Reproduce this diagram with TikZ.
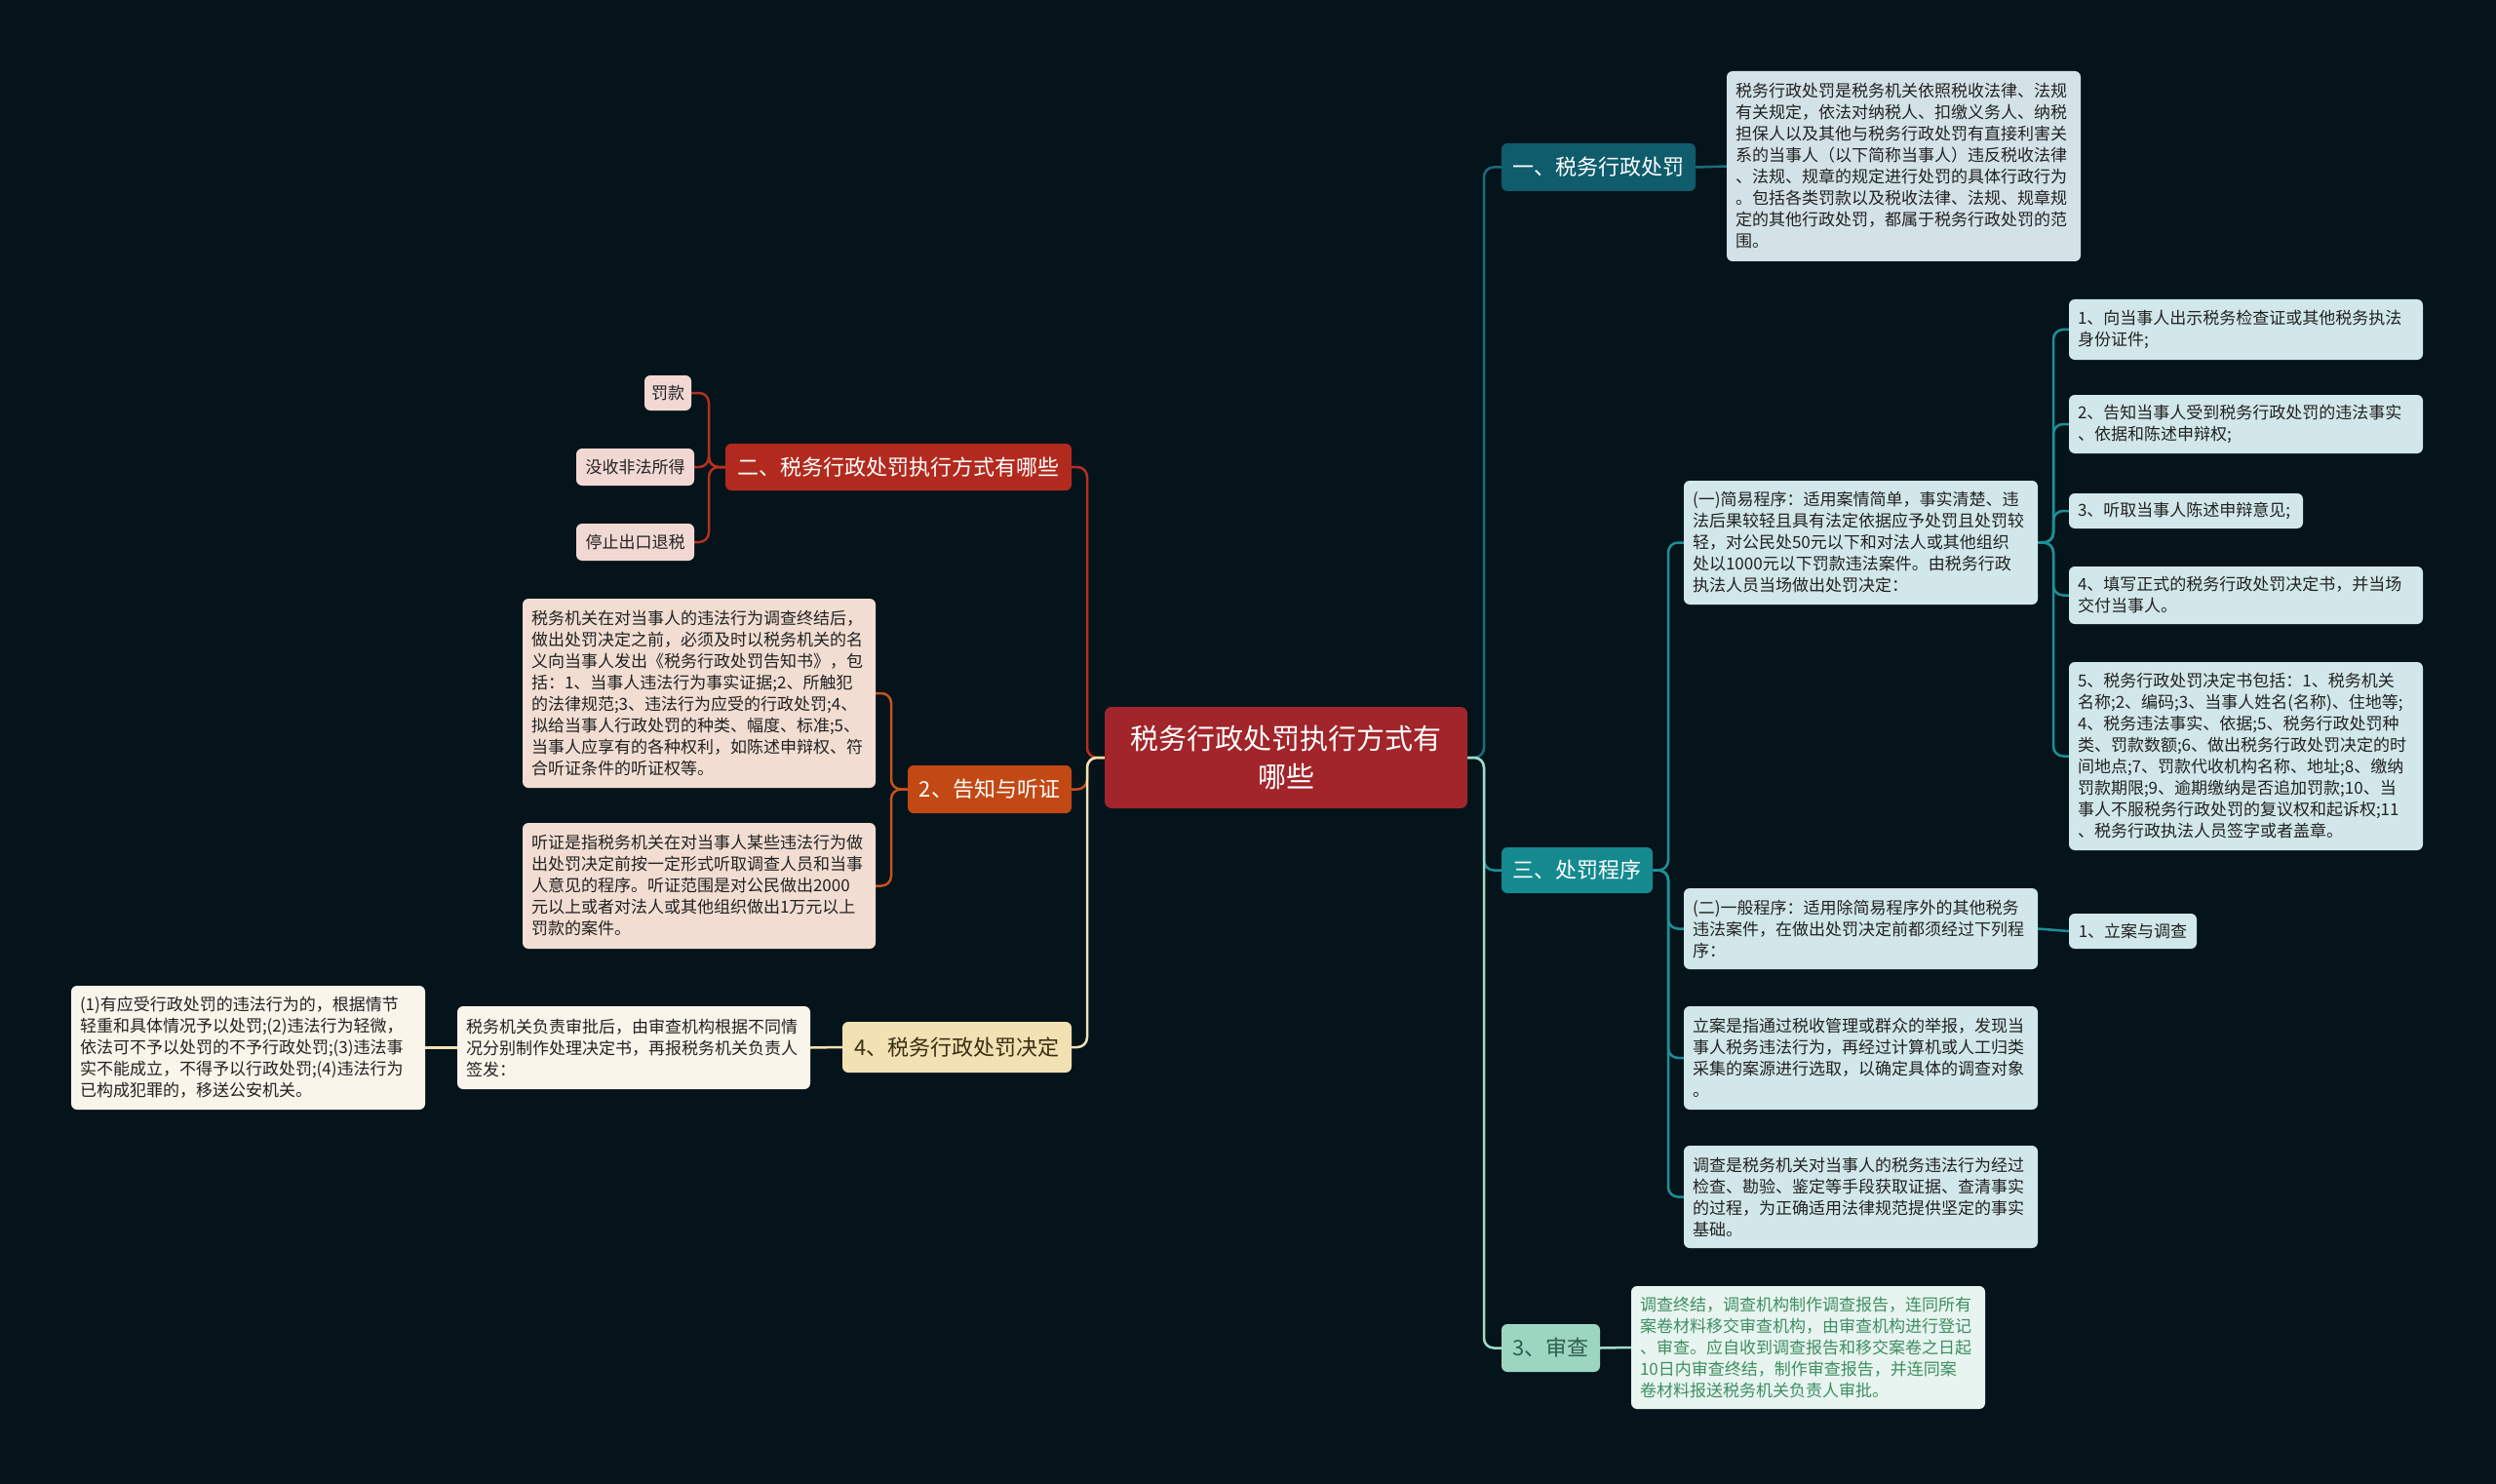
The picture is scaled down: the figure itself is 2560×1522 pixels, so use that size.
\documentclass[tikz,border=0pt]{standalone}
\usepackage{fontspec}
\setmainfont{Noto Sans CJK SC}
\usetikzlibrary{backgrounds}
\definecolor{bgc}{HTML}{05131B}
\definecolor{ctrc}{HTML}{A1252A}
\definecolor{redc}{HTML}{B22A1E}
\definecolor{redl}{HTML}{B4301F}
\definecolor{redleaf}{HTML}{F2D8D3}
\definecolor{orc}{HTML}{C24814}
\definecolor{orl}{HTML}{C4531C}
\definecolor{orleaf}{HTML}{F1DDD2}
\definecolor{yec}{HTML}{F1E1B3}
\definecolor{yel}{HTML}{EFE2B4}
\definecolor{yeleaf}{HTML}{FAF5EA}
\definecolor{yetxt}{HTML}{3A2E12}
\definecolor{dtc}{HTML}{0F5C6D}
\definecolor{dtl}{HTML}{1D6B7B}
\definecolor{dtleaf}{HTML}{D3E2E7}
\definecolor{tec}{HTML}{148A8F}
\definecolor{tel}{HTML}{1C9096}
\definecolor{teleaf}{HTML}{D1E7E9}
\definecolor{mic}{HTML}{9CD6C1}
\definecolor{mil}{HTML}{A2DBC7}
\definecolor{mitxt}{HTML}{2E5E52}
\definecolor{mileaf}{HTML}{E8F4EF}
\definecolor{migreen}{HTML}{3E8E63}
\definecolor{txtdark}{HTML}{222222}
\begin{document}
\begin{tikzpicture}[x=1pt,y=-1pt,
  box/.style={rounded corners=6pt, inner xsep=9pt, inner ysep=4pt, align=left,
    font=\fontsize{17}{22}\selectfont, text=txtdark},
  leaf/.style={rounded corners=6pt, inner xsep=6pt, inner ysep=2pt, align=center,
    font=\fontsize{17}{22}\selectfont, text=txtdark},
  branch/.style={rounded corners=6pt, inner sep=0pt, align=center,
    font=\fontsize{22}{26}\selectfont},
  conn/.style={line width=2.5pt, rounded corners=10pt}]
\useasboundingbox (0,0) rectangle (2560,1522);

% central
\node[rounded corners=7pt, fill=ctrc, text=white, align=center, inner sep=0pt,
  minimum width=372pt, minimum height=104pt, font=\fontsize{29}{39}\selectfont]
  (ctr) at (1319,777) {税务行政处罚执行方式有\\哪些};

% right branches
\node[branch, fill=dtc, text=white, minimum width=199pt, minimum height=49pt] (one) at (1639.5,171.5) {一、税务行政处罚};
\node[branch, fill=tec, text=white, minimum width=155pt, minimum height=47pt] (san) at (1617.5,892.5) {三、处罚程序};
\node[branch, fill=mic, text=mitxt, minimum width=101pt, minimum height=49pt] (shen) at (1590.5,1382.5) {3、审查};

\node[box, fill=dtleaf, text width=345pt, minimum height=195pt] (onedesc) at (1952.5,170.5) {税务行政处罚是税务机关依照税收法律、法规\\有关规定，依法对纳税人、扣缴义务人、纳税\\担保人以及其他与税务行政处罚有直接利害关\\系的当事人（以下简称当事人）违反税收法律\\、法规、规章的规定进行处罚的具体行政行为\\。包括各类罚款以及税收法律、法规、规章规\\定的其他行政处罚，都属于税务行政处罚的范\\围。};

\node[box, fill=teleaf, text width=345pt, minimum height=127pt] (jy) at (1908.5,556.5) {(一)简易程序：适用案情简单，事实清楚、违\\法后果较轻且具有法定依据应予处罚且处罚较\\轻，对公民处50元以下和对法人或其他组织\\处以1000元以下罚款违法案件。由税务行政\\执法人员当场做出处罚决定：};

\node[box, fill=teleaf, text width=345pt, minimum height=62pt] (s1) at (2303.5,338) {1、向当事人出示税务检查证或其他税务执法\\身份证件;};
\node[box, fill=teleaf, text width=345pt, minimum height=60pt] (s2) at (2303.5,435) {2、告知当事人受到税务行政处罚的违法事实\\、依据和陈述申辩权;};
\node[box, fill=teleaf, text width=222pt, minimum height=36pt] (s3) at (2242,524) {3、听取当事人陈述申辩意见;};
\node[box, fill=teleaf, text width=345pt, minimum height=59pt] (s4) at (2303.5,610.5) {4、填写正式的税务行政处罚决定书，并当场\\交付当事人。};
\node[box, fill=teleaf, text width=345pt, minimum height=193pt] (s5) at (2303.5,775.5) {5、税务行政处罚决定书包括：1、税务机关\\名称;2、编码;3、当事人姓名(名称)、住地等;\\4、税务违法事实、依据;5、税务行政处罚种\\类、罚款数额;6、做出税务行政处罚决定的时\\间地点;7、罚款代收机构名称、地址;8、缴纳\\罚款期限;9、逾期缴纳是否追加罚款;10、当\\事人不服税务行政处罚的复议权和起诉权;11\\、税务行政执法人员签字或者盖章。};

\node[box, fill=teleaf, text width=345pt, minimum height=83pt] (yb) at (1908.5,952.5) {(二)一般程序：适用除简易程序外的其他税务\\违法案件，在做出处罚决定前都须经过下列程\\序：};
\node[leaf, fill=teleaf, minimum width=131pt, minimum height=36pt] (la1) at (2187.5,955) {1、立案与调查};

\node[box, fill=teleaf, text width=345pt, minimum height=106pt] (lian) at (1908.5,1085) {立案是指通过税收管理或群众的举报，发现当\\事人税务违法行为，再经过计算机或人工归类\\采集的案源进行选取，以确定具体的调查对象\\。};
\node[box, fill=teleaf, text width=345pt, minimum height=105pt] (dc) at (1908.5,1227.5) {调查是税务机关对当事人的税务违法行为经过\\检查、勘验、鉴定等手段获取证据、查清事实\\的过程，为正确适用法律规范提供坚定的事实\\基础。};

\node[box, fill=mileaf, text=migreen, text width=345pt, minimum height=126pt] (shendesc) at (1854.5,1382) {调查终结，调查机构制作调查报告，连同所有\\案卷材料移交审查机构，由审查机构进行登记\\、审查。应自收到调查报告和移交案卷之日起\\10日内审查终结，制作审查报告，并连同案\\卷材料报送税务机关负责人审批。};

% left branches
\node[branch, fill=redc, text=white, minimum width=355pt, minimum height=48pt] (er) at (921.5,479) {二、税务行政处罚执行方式有哪些};
\node[leaf, fill=redleaf, minimum width=48pt, minimum height=36pt] (fk) at (685,403) {罚款};
\node[leaf, fill=redleaf, minimum width=121pt, minimum height=38pt] (ms) at (651.5,479) {没收非法所得};
\node[leaf, fill=redleaf, minimum width=121pt, minimum height=38pt] (tz) at (651.5,556) {停止出口退税};

\node[branch, fill=orc, text=white, minimum width=168pt, minimum height=49pt] (gz) at (1015,809.5) {2、告知与听证};
\node[box, fill=orleaf, text width=344pt, minimum height=194pt] (gzd) at (717,711) {税务机关在对当事人的违法行为调查终结后，\\做出处罚决定之前，必须及时以税务机关的名\\义向当事人发出《税务行政处罚告知书》，包\\括：1、当事人违法行为事实证据;2、所触犯\\的法律规范;3、违法行为应受的行政处罚;4、\\拟给当事人行政处罚的种类、幅度、标准;5、\\当事人应享有的各种权利，如陈述申辩权、符\\合听证条件的听证权等。};
\node[box, fill=orleaf, text width=344pt, minimum height=129pt] (tzd) at (717,908.5) {听证是指税务机关在对当事人某些违法行为做\\出处罚决定前按一定形式听取调查人员和当事\\人意见的程序。听证范围是对公民做出2000\\元以上或者对法人或其他组织做出1万元以上\\罚款的案件。};

\node[branch, fill=yec, text=yetxt, minimum width=235pt, minimum height=52pt] (jd) at (981.5,1074) {4、税务行政处罚决定};
\node[box, fill=yeleaf, text width=344pt, minimum height=85pt] (sp) at (650,1074.5) {税务机关负责审批后，由审查机构根据不同情\\况分别制作处理决定书，再报税务机关负责人\\签发：};
\node[box, fill=yeleaf, text width=345pt, minimum height=127pt] (yy) at (254.5,1074.5) {(1)有应受行政处罚的违法行为的，根据情节\\轻重和具体情况予以处罚;(2)违法行为轻微，\\依法可不予以处罚的不予行政处罚;(3)违法事\\实不能成立，不得予以行政处罚;(4)违法行为\\已构成犯罪的，移送公安机关。};

% trunk coordinates
\coordinate (tR) at (1522,0);
\coordinate (tL) at (1115,0);
\coordinate (tS) at (1711,0);
\coordinate (tJ) at (2106,0);
\coordinate (tE) at (727,0);
\coordinate (tG) at (914,0);

\begin{pgfonlayer}{background}
\fill[bgc] (0,0) rectangle (2560,1522);
% right
\draw[conn, dtl] (ctr.east) -- (ctr.east -| tR) |- (one.west);
\draw[conn, tel] (ctr.east) -- (ctr.east -| tR) |- (san.west);
\draw[conn, mil] (ctr.east) -- (ctr.east -| tR) |- (shen.west);
\draw[conn, dtl] (one.east) -- (onedesc.west);
\draw[conn, mil] (shen.east) -- (shendesc.west);
\foreach \c in {jy,yb,lian,dc}
  \draw[conn, tel] (san.east) -- (san.east -| tS) |- (\c.west);
\foreach \c in {s1,s2,s3,s4,s5}
  \draw[conn, tel] (jy.east) -- (jy.east -| tJ) |- (\c.west);
\draw[conn, tel] (yb.east) -- (la1.west);
% left
\draw[conn, redl] (ctr.west) -- (ctr.west -| tL) |- (er.east);
\draw[conn, orl] (ctr.west) -- (ctr.west -| tL) |- (gz.east);
\draw[conn, yel] (ctr.west) -- (ctr.west -| tL) |- (jd.east);
\foreach \c in {fk,ms,tz}
  \draw[conn, redl] (er.west) -- (er.west -| tE) |- (\c.east);
\foreach \c in {gzd,tzd}
  \draw[conn, orl] (gz.west) -- (gz.west -| tG) |- (\c.east);
\draw[conn, yel] (jd.west) -- (sp.east);
\draw[conn, yel] (sp.west) -- (yy.east);
\end{pgfonlayer}
\end{tikzpicture}
\end{document}
